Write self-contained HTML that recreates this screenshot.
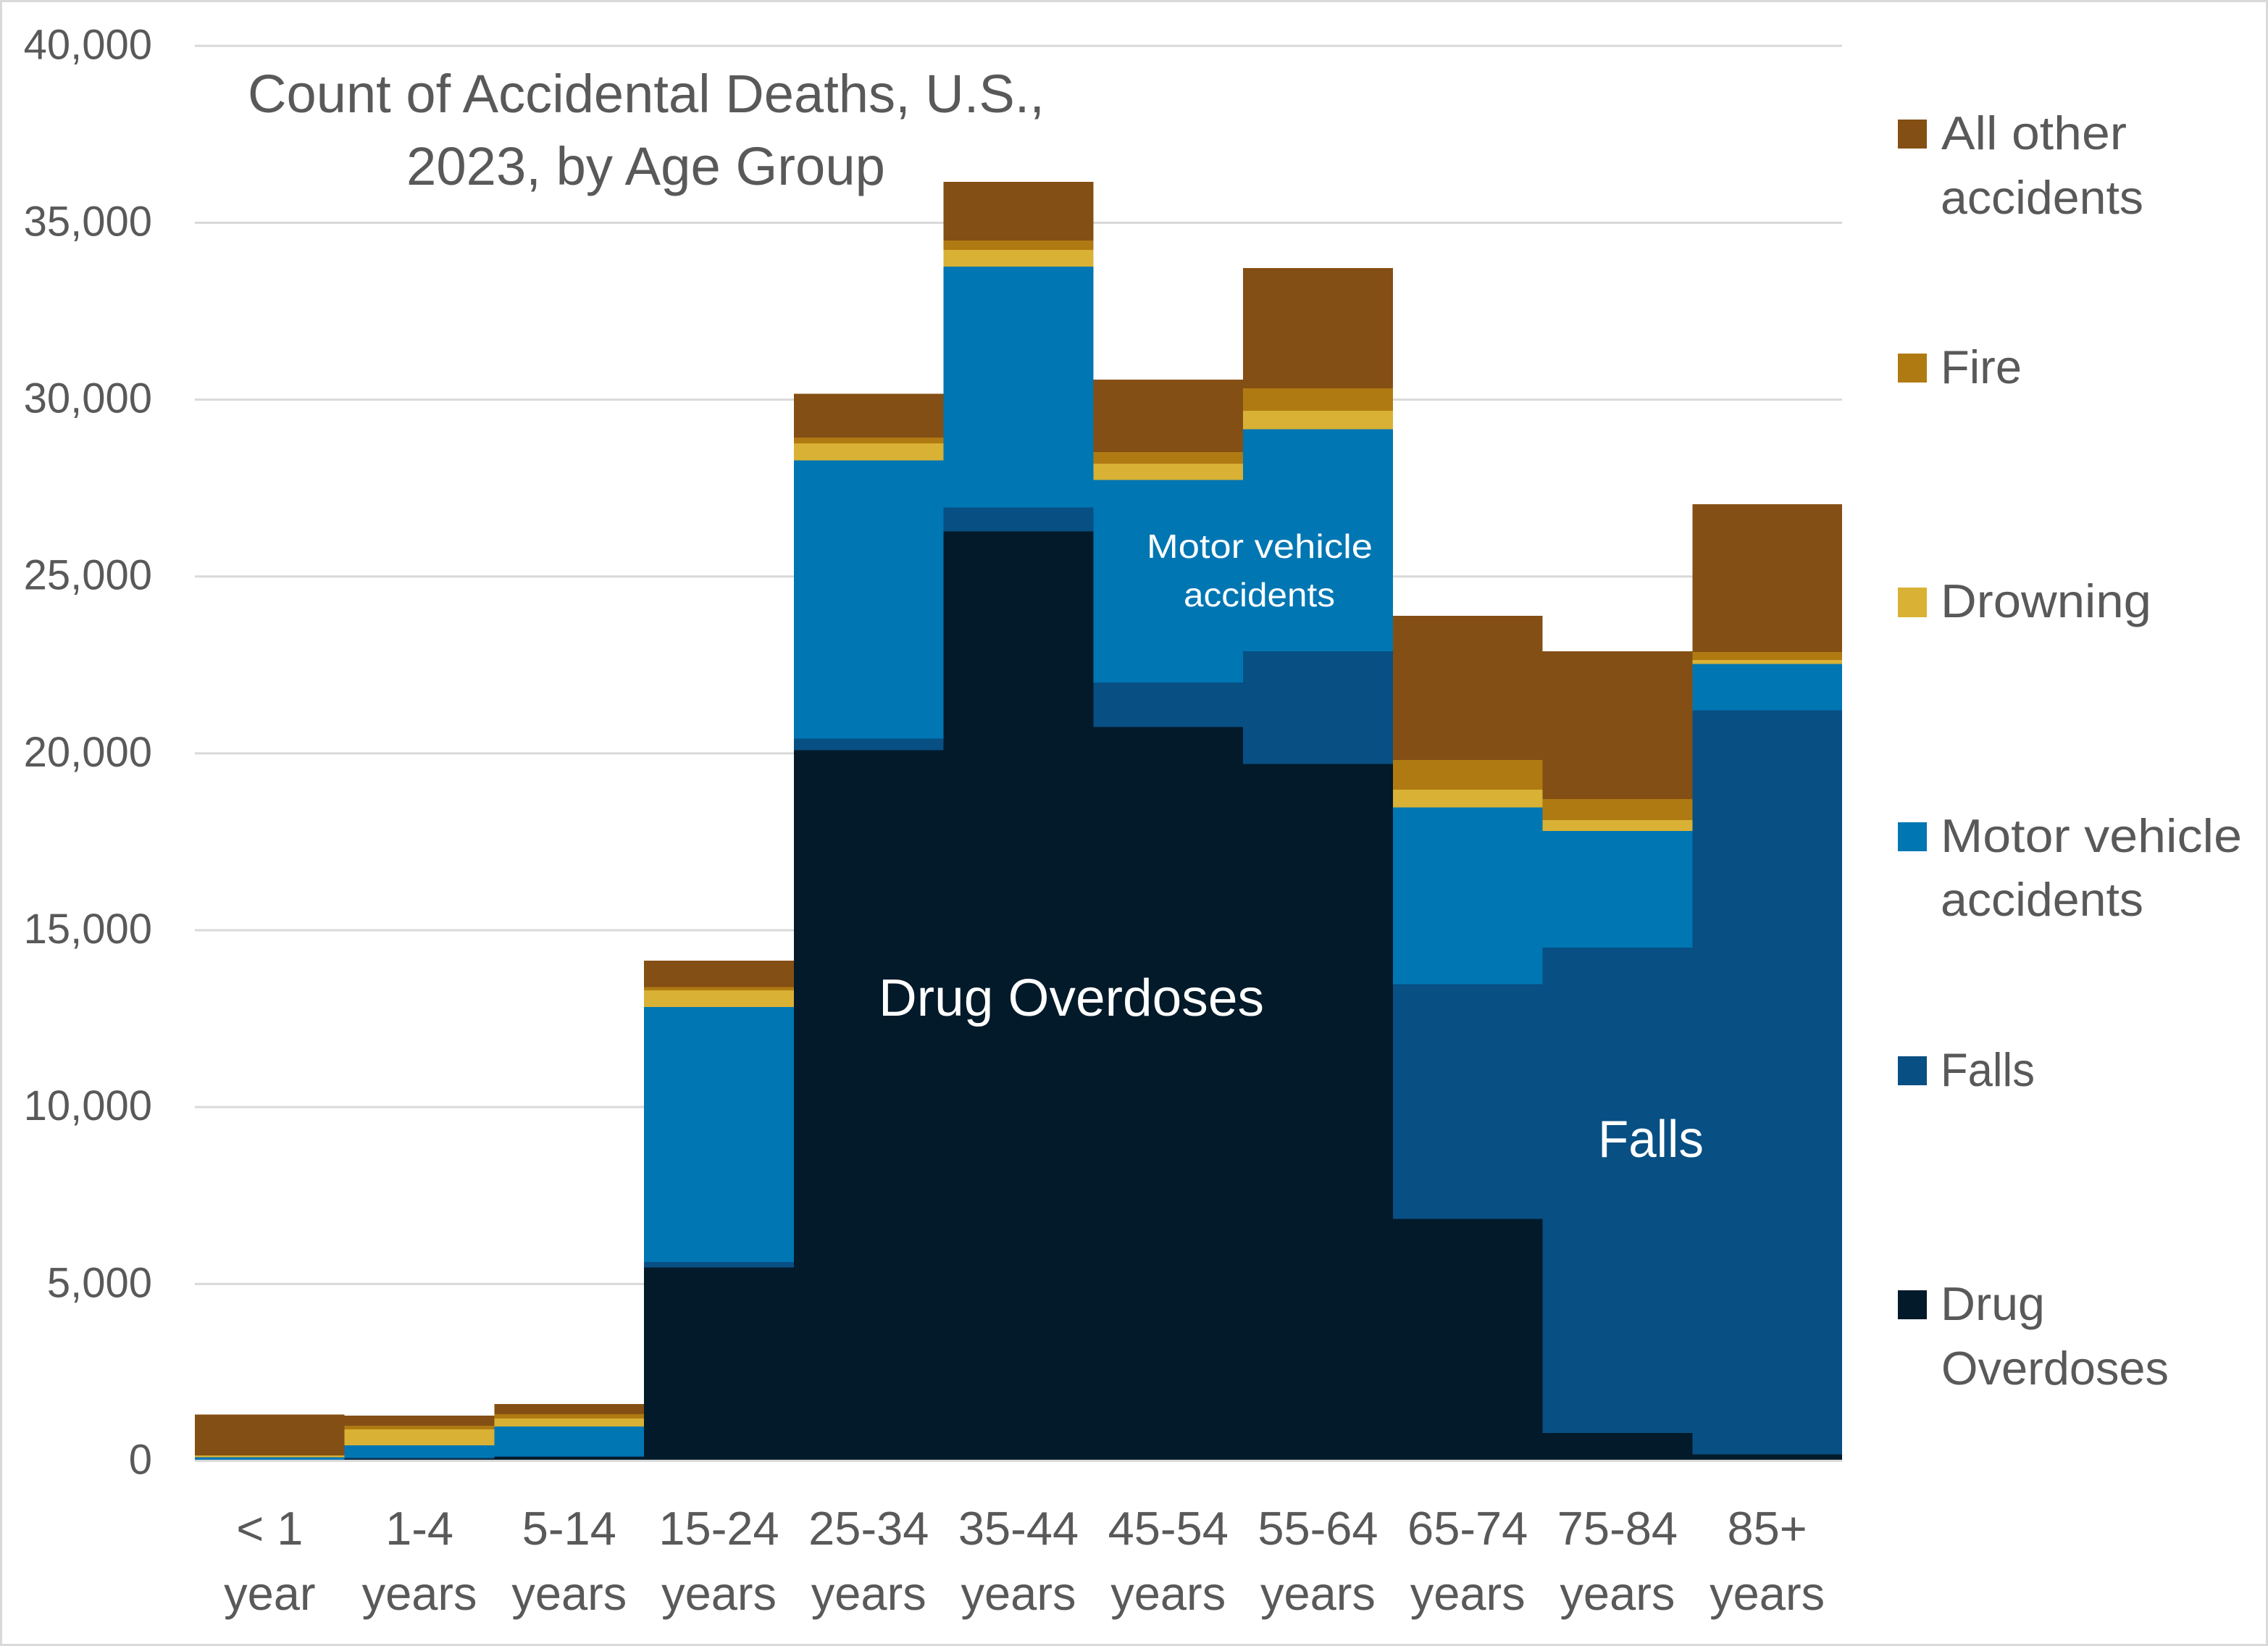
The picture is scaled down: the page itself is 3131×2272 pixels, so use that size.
<!DOCTYPE html>
<html lang="en">
<head>
<meta charset="utf-8">
<title>Count of Accidental Deaths, U.S., 2023, by Age Group</title>
<style>
  html, body { margin: 0; padding: 0; background: #ffffff; }
  svg { display: block; }
  text { font-family: "Liberation Sans", sans-serif; fill: #595959; }
  .white { fill: #ffffff; }
</style>
</head>
<body>
<svg id="chart" xmlns="http://www.w3.org/2000/svg" width="3131" height="2272" viewBox="0 0 3131 2272">
  <rect x="1.5" y="1.5" width="3128" height="2269" fill="#ffffff" stroke="#d9d9d9" stroke-width="3"/>
  <g id="grid"></g>
  <g id="bars"></g>
  <g id="axes"></g>

  <g>
    <text x="342" y="155" font-size="74" textLength="1100" lengthAdjust="spacingAndGlyphs">Count of Accidental Deaths, U.S.,</text>
    <text x="561" y="255" font-size="74" textLength="661" lengthAdjust="spacingAndGlyphs">2023, by Age Group</text>
  </g>

  <g>
    <text class="white" x="1213" y="1402" font-size="72" textLength="532" lengthAdjust="spacingAndGlyphs">Drug Overdoses</text>
    <text class="white" x="2206" y="1597" font-size="72" textLength="146" lengthAdjust="spacingAndGlyphs">Falls</text>
    <text class="white" x="1583" y="770" font-size="46" textLength="312" lengthAdjust="spacingAndGlyphs">Motor vehicle</text>
    <text class="white" x="1634" y="837" font-size="46" textLength="209" lengthAdjust="spacingAndGlyphs">accidents</text>
  </g>

  <g>
    <g>
      <rect x="2620" y="165" width="40" height="40" fill="#844F14"/>
      <text x="2680" y="206" font-size="65" textLength="256" lengthAdjust="spacingAndGlyphs">All other</text>
      <text x="2679" y="295" font-size="65" textLength="280" lengthAdjust="spacingAndGlyphs">accidents</text>
    </g>
    <g>
      <rect x="2620" y="488" width="40" height="40" fill="#B07A12"/>
      <text x="2679" y="529" font-size="65" textLength="112" lengthAdjust="spacingAndGlyphs">Fire</text>
    </g>
    <g>
      <rect x="2620" y="811" width="40" height="41" fill="#D9B135"/>
      <text x="2679" y="852" font-size="65" textLength="291" lengthAdjust="spacingAndGlyphs">Drowning</text>
    </g>
    <g>
      <rect x="2620" y="1135" width="40" height="40" fill="#0076B3"/>
      <text x="2679" y="1176" font-size="65" textLength="416" lengthAdjust="spacingAndGlyphs">Motor vehicle</text>
      <text x="2679" y="1264" font-size="65" textLength="280" lengthAdjust="spacingAndGlyphs">accidents</text>
    </g>
    <g>
      <rect x="2620" y="1458" width="40" height="40" fill="#084F83"/>
      <text x="2679" y="1499" font-size="65" textLength="130" lengthAdjust="spacingAndGlyphs">Falls</text>
    </g>
    <g>
      <rect x="2620" y="1781" width="40" height="40" fill="#021A29"/>
      <text x="2679" y="1822" font-size="65" textLength="144" lengthAdjust="spacingAndGlyphs">Drug</text>
      <text x="2680" y="1911" font-size="65" textLength="314" lengthAdjust="spacingAndGlyphs">Overdoses</text>
    </g>
  </g>
</svg>

<script>
const categoryLine1 = ['< 1', '1-4', '5-14', '15-24', '25-34', '35-44', '45-54', '55-64', '65-74', '75-84', '85+'];
const categoryLine2 = ['year', 'years', 'years', 'years', 'years', 'years', 'years', 'years', 'years', 'years', 'years'];
const yTicks = [0, 5000, 10000, 15000, 20000, 25000, 30000, 35000, 40000];

const drugOverdoses = [0, 57, 106, 5464, 20094, 26279, 20741, 19695, 6836, 782, 182];
const falls = [15, 35, 27, 151, 318, 670, 1260, 3186, 6635, 13727, 21036];
const motorVehicle = [90, 342, 834, 7215, 7866, 6807, 5724, 6277, 5005, 3292, 1309];
const drowning = [45, 457, 231, 471, 481, 471, 459, 531, 494, 311, 109];
const fire = [5, 96, 123, 96, 166, 270, 329, 635, 842, 594, 229];
const allOther = [1150, 293, 287, 744, 1245, 1657, 2056, 3397, 4077, 4178, 4178];

const seriesNames = ['drug-overdoses', 'falls', 'motor-vehicle', 'drowning', 'fire', 'all-other'];
const seriesValues = [drugOverdoses, falls, motorVehicle, drowning, fire, allOther];
const seriesColors = ['#021A29', '#084F83', '#0076B3', '#D9B135', '#B07A12', '#844F14'];

const SVG_NS = 'http://www.w3.org/2000/svg';
const plotLeft = 269;
const plotRight = 2543;
const plotTop = 63.3;
const plotBottom = 2016.4;
const yMax = 40000;

function yScale(v) {
  return plotBottom - (v / yMax) * (plotBottom - plotTop);
}
function xScale(i) {
  return plotLeft + i * (plotRight - plotLeft) / categoryLine1.length;
}
function make(tag, attrs, parent) {
  const el = document.createElementNS(SVG_NS, tag);
  for (const k in attrs) el.setAttribute(k, attrs[k]);
  parent.appendChild(el);
  return el;
}

const gridGroup = document.getElementById('grid');
const barGroup = document.getElementById('bars');
const axisGroup = document.getElementById('axes');

yTicks.forEach(function (t) {
  if (t !== 0) {
    const line = make('line', { x1: plotLeft, x2: plotRight, y1: yScale(t), y2: yScale(t), stroke: '#d9d9d9', 'stroke-width': 3 }, gridGroup);
    
    
  }
  const label = make('text', { x: 210, y: yScale(t) + 18, 'font-size': 58, 'text-anchor': 'end' }, axisGroup);
  label.textContent = t.toLocaleString('en-US');
  
  
});

categoryLine1.forEach(function (cat, i) {
  let running = 0;
  seriesValues.forEach(function (vals, s) {
    const v = vals[i];
    const top = yScale(running + v);
    const bottom = yScale(running);
    running += v;
    if (v <= 0) return;
    const rect = make('rect', {
      x: xScale(i),
      y: top,
      width: xScale(i + 1) - xScale(i),
      height: bottom - top,
      fill: seriesColors[s],
      'shape-rendering': 'crispEdges'
    }, barGroup);
    
    
  });

  const center = (xScale(i) + xScale(i + 1)) / 2;
  const line1 = make('text', { x: center, y: 2132, 'font-size': 65, 'text-anchor': 'middle' }, axisGroup);
  line1.textContent = cat;
  
  
  const line2 = make('text', { x: center, y: 2222, 'font-size': 65, 'text-anchor': 'middle' }, axisGroup);
  line2.textContent = categoryLine2[i];
  
  
});

const axisLine = make('line', { x1: plotLeft, x2: plotRight, y1: plotBottom, y2: plotBottom, stroke: '#d9d9d9', 'stroke-width': 3 }, axisGroup);


</script>
</body>
</html>
